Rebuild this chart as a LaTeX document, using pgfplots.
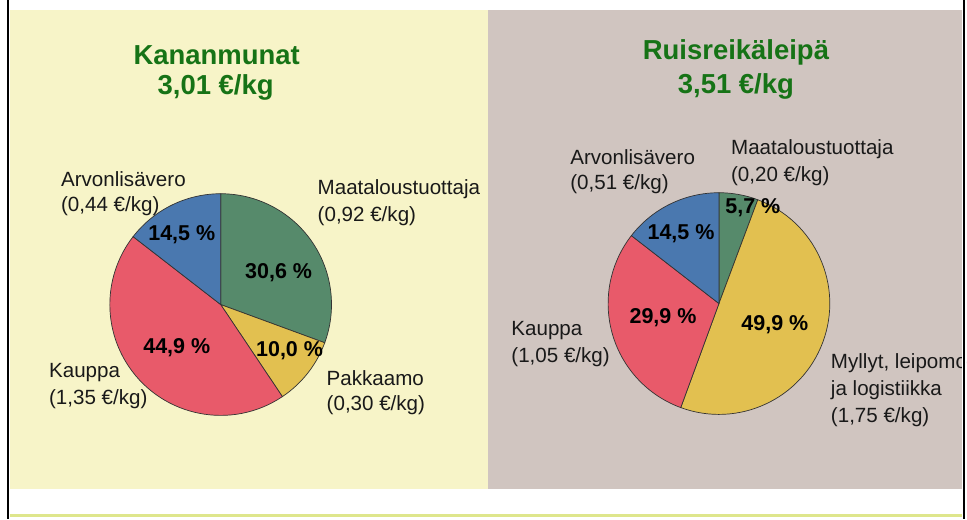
\documentclass[border=0pt]{standalone}
\usepackage{pgfplots}
\pgfplotsset{compat=1.18}
\usepackage{pgfplotstable}
\usepackage{fontspec}
\setmainfont{Liberation Sans}

\definecolor{bgyellow}{RGB}{247,244,200}
\definecolor{bggray}{RGB}{208,197,192}
\definecolor{lineyg}{RGB}{222,230,140}
\definecolor{titlegreen}{RGB}{22,115,22}
\definecolor{pgreen}{RGB}{86,138,107}
\definecolor{pyellow}{RGB}{226,192,80}
\definecolor{pred}{RGB}{232,90,106}
\definecolor{pblue}{RGB}{74,120,175}
\definecolor{labtxt}{RGB}{25,25,25}

% slice = start% / share% / colour index, clockwise from 12 o'clock
\pgfplotstableread{
x y slice
221 305 0/30.6/1
221 305 30.6/10.0/2
221 305 40.6/44.9/3
221 305 85.5/14.5/4
}\eggs
\pgfplotstableread{
x y slice
720 304 0/5.7/1
720 304 5.7/49.9/2
720 304 55.6/29.9/3
720 304 85.5/14.5/4
}\bread

\newcommand\pieR{111pt}
\def\getslice#1/#2/#3\relax{\def\slicestart{#1}\def\slicepct{#2}\def\slicecol{#3}}
\pgfdeclareplotmark{slice}{%
  \expandafter\getslice\pgfplotspointmeta\relax
  \pgfkeys{/pgf/fpu=false}%
  \pgfmathsetmacro\angA{90-3.6*\slicestart}%
  \pgfmathsetmacro\angB{90-3.6*(\slicestart+\slicepct)}%
  \ifcase\slicecol\relax\or\pgfsetfillcolor{pgreen}\or\pgfsetfillcolor{pyellow}\or\pgfsetfillcolor{pred}\or\pgfsetfillcolor{pblue}\fi
  \pgfpathmoveto{\pgfpointorigin}%
  \pgfpathlineto{\pgfpointpolar{\angA}{\pieR}}%
  \pgfpatharc{\angA}{\angB}{\pieR}%
  \pgfpathclose
  \pgfusepath{fill,stroke}%
}
\pgfplotsset{pie/.style={
    scatter, only marks, mark=slice,
    point meta=explicit symbolic,
    scatter/@pre marker code/.code={},
    scatter/@post marker code/.code={},
    mark options={draw=black!80, line width=0.7pt},
}}

\newcommand\lab{\fontsize{20.6}{24}\selectfont}
\newcommand\pct{\fontsize{21.5}{25}\selectfont\bfseries}
\newcommand\ttl{\fontsize{27.5}{32}\selectfont\bfseries}
% image coordinates (y from top) to canvas
\newcommand\ip[2]{(#1pt,{(520-#2)*1pt})}

\begin{document}
\begin{tikzpicture}
  % page and panels
  \fill[white] (0,0) rectangle (967pt,520pt);
  \fill[bgyellow] (10pt,30pt) rectangle (489pt,510pt);
  \fill[bggray] (489pt,30pt) rectangle (964pt,510pt);
  \fill[lineyg] (10pt,2.5pt) rectangle (964pt,5pt);

  \begin{axis}[
    at={(0,0)}, anchor=south west,
    width=967pt, height=520pt, scale only axis,
    xmin=0, xmax=967, ymin=0, ymax=520, y dir=reverse,
    axis lines=none, clip=false,
  ]
    \addplot[pie] table[x=x, y=y, meta=slice] {\eggs};
    \addplot[pie] table[x=x, y=y, meta=slice] {\bread};

    % titles
    \node[font=\ttl, text=titlegreen] at (axis cs:217,55) {Kananmunat};
    \node[font=\ttl, text=titlegreen] at (axis cs:216,88) {3,01 €/kg};
    \node[font=\ttl, text=titlegreen] at (axis cs:737,52) {Ruisreikäleipä};
    \node[font=\ttl, text=titlegreen] at (axis cs:737,87) {3,51 €/kg};

    % category labels
    \begin{scope}[every node/.style={font=\lab, text=labtxt, anchor=west, inner sep=0pt}]
      \node at (axis cs:61,179) {Arvonlisävero};
      \node at (axis cs:61,206) {(0,44 €/kg)};
      \node at (axis cs:318,189) {Maataloustuottaja};
      \node at (axis cs:318,216) {(0,92 €/kg)};
      \node at (axis cs:49,373) {Kauppa};
      \node at (axis cs:49,400) {(1,35 €/kg)};
      \node at (axis cs:327,379) {Pakkaamo};
      \node at (axis cs:327,406) {(0,30 €/kg)};

      \node at (axis cs:571,157) {Arvonlisävero};
      \node at (axis cs:571,184) {(0,51 €/kg)};
      \node at (axis cs:732,149) {Maataloustuottaja};
      \node at (axis cs:732,176) {(0,20 €/kg)};
      \node at (axis cs:512,331) {Kauppa};
      \node at (axis cs:512,358) {(1,05 €/kg)};
      \node at (axis cs:832,364) {Myllyt, leipomo};
      \node at (axis cs:832,391) {ja logistiikka};
      \node at (axis cs:832,418) {(1,75 €/kg)};
    \end{scope}
  \end{axis}

  % percentages on top of the slices
  \begin{scope}[every node/.style={font=\pct, text=black}]
    \node at \ip{182}{235} {14,5 \%};
    \node at \ip{279}{273} {30,6 \%};
    \node at \ip{177}{348} {44,9 \%};
    \node at \ip{290}{351} {10,0 \%};
    \node at \ip{754}{208} {5,7 \%};
    \node at \ip{682}{234} {14,5 \%};
    \node at \ip{664}{318} {29,9 \%};
    \node at \ip{776}{325} {49,9 \%};
  \end{scope}

  % frame edges, drawn over the clipped label
  \fill[white] (963pt,0) rectangle (967pt,520pt);
  \fill[black] (964.3pt,0) rectangle (966.8pt,520pt);
  \fill[black] (6.8pt,0) rectangle (9.2pt,520pt);
\end{tikzpicture}
\end{document}
